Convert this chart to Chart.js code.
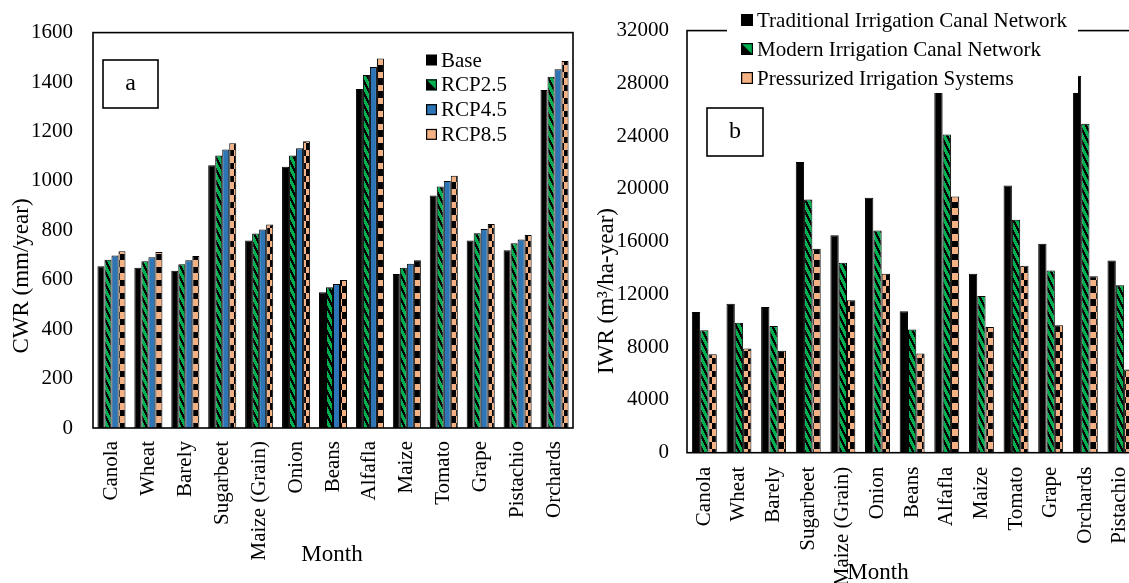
<!DOCTYPE html>
<html lang="en">
<head>
<meta charset="UTF-8">
<title>CWR and IWR by crop</title>
<script src="https://cdn.jsdelivr.net/npm/chart.js"></script>
<style>
  * { margin: 0; padding: 0; box-sizing: border-box; }
  html, body { width: 1129px; height: 583px; overflow: hidden; background: #fff; }
  .panel { position: absolute; top: 0; height: 583px; }
  #panelA { left: 0; width: 600px; }
  #panelB { left: 580px; width: 580px; }
</style>
</head>
<body>
<div class="panel" id="panelA"><canvas id="cwrChart" width="600" height="583"></canvas></div>
<div class="panel" id="panelB"><canvas id="iwrChart" width="580" height="583"></canvas></div>
<script>
// panel a - crop water requirement (mm/year)
const cropsA = ['Canola', 'Wheat', 'Barely', 'Sugarbeet', 'Maize (Grain)', 'Onion', 'Beans', 'Alfafla', 'Maize', 'Tomato', 'Grape', 'Pistachio', 'Orchards'];
const cwrBase  = [655, 648, 636, 1063, 759, 1057, 549, 1372, 623, 941, 759, 719, 1368];
const cwrRcp26 = [681, 675, 663, 1103, 787, 1103, 570, 1428, 648, 977, 788, 748, 1421];
const cwrRcp45 = [698, 691, 679, 1127, 803, 1132, 583, 1461, 665, 999, 805, 763, 1452];
const cwrRcp85 = [715, 712, 696, 1152, 823, 1160, 599, 1495, 679, 1021, 825, 781, 1485];
const cwrTicks = [0, 200, 400, 600, 800, 1000, 1200, 1400, 1600];

// panel b - irrigation water requirement (m3/ha-year)
const cropsB = ['Canola', 'Wheat', 'Barely', 'Sugarbeet', 'Maize (Grain)', 'Onion', 'Beans', 'Alfafla', 'Maize', 'Tomato', 'Grape', 'Orchards', 'Pistachio'];
const iwrTraditional = [10670, 11300, 11050, 22040, 16490, 19320, 10720, 27700, 13570, 20250, 15840, 28570, 14580];
const iwrModern      = [9280, 9860, 9610, 19190, 14400, 16850, 9340, 24130, 11880, 17660, 13820, 24940, 12690];
const iwrPressurized = [7470, 7900, 7720, 15460, 11550, 13570, 7520, 19420, 9530, 14180, 9660, 13370, 6310];
const iwrTicks = [0, 4000, 8000, 12000, 16000, 20000, 24000, 28000, 32000];

const SERIF = '"Liberation Serif", "Times New Roman", serif';
const GREEN = '#00b050';
const BLUE = '#2e75b6';
const PEACH = '#f4b183';

Chart.defaults.color = '#000';
Chart.defaults.font.family = SERIF;

function makePattern(ctx, w, h, paint) {
    const c = document.createElement('canvas');
    c.width = w;
    c.height = h;
    paint(c.getContext('2d'));
    return ctx.createPattern(c, 'repeat');
}

// green with black downward diagonal bands
function greenStripes(ctx) {
    return makePattern(ctx, 6, 12, g => {
        g.fillStyle = GREEN;
        g.fillRect(0, 0, 6, 12);
        g.fillStyle = '#000';
        for (let x = 0; x < 6; x++) {
            for (let y = 0; y < 12; y++) {
                if (((y - 2 * x) % 12 + 12) % 12 < 5) g.fillRect(x, y, 1, 1);
            }
        }
    });
}

// peach / black large checker
function peachChecker(ctx) {
    return makePattern(ctx, 12, 13, g => {
        g.fillStyle = '#000';
        g.fillRect(0, 0, 12, 13);
        g.fillStyle = PEACH;
        g.fillRect(0, 0, 6, 7);
        g.fillRect(6, 7, 6, 6);
    });
}

function drawSwatch(ctx, kind, x, y, s) {
    if (kind === 'solid') {
        ctx.fillStyle = '#000';
        ctx.fillRect(x, y, s, s);
        return;
    }
    ctx.fillStyle = kind === 'diag' ? GREEN : kind === 'blue' ? BLUE : PEACH;
    ctx.fillRect(x, y, s, s);
    ctx.fillStyle = '#000';
    if (kind === 'diag') {
        ctx.beginPath();
        ctx.moveTo(x, y);
        ctx.lineTo(x + s, y + s);
        ctx.lineTo(x, y + s);
        ctx.closePath();
        ctx.fill();
    }
    ctx.strokeStyle = '#000';
    ctx.lineWidth = 1.2;
    ctx.strokeRect(x + 0.6, y + 0.6, s - 1.2, s - 1.2);
}

// frame, in-plot legend, panel letter and axis titles
const panelDecor = {
    id: 'panelDecor',
    afterDatasetsDraw(chart, args, opts) {
        const ctx = chart.ctx;
        const area = chart.chartArea;
        ctx.save();
        ctx.strokeStyle = '#000';
        ctx.lineWidth = 1.6;
        ctx.strokeRect(area.left, area.top, area.right - area.left, area.bottom - area.top);

        const lg = opts.legend;
        if (lg.box) {
            ctx.fillStyle = '#fff';
            ctx.fillRect(lg.box[0], lg.box[1], lg.box[2], lg.box[3]);
        }
        ctx.font = '21px ' + SERIF;
        ctx.textAlign = 'left';
        ctx.textBaseline = 'middle';
        chart.data.datasets.forEach((ds, i) => {
            const cy = lg.y + i * lg.rowH;
            drawSwatch(ctx, lg.kinds[i], lg.x, cy - lg.size / 2, lg.size);
            ctx.fillStyle = '#000';
            ctx.fillText(ds.label, lg.x + lg.size + 4, cy + 1);
        });

        const b = opts.letter;
        ctx.fillStyle = '#fff';
        ctx.fillRect(b.x, b.y, b.w, b.h);
        ctx.lineWidth = 1.6;
        ctx.strokeRect(b.x, b.y, b.w, b.h);
        ctx.fillStyle = '#000';
        ctx.font = '24px ' + SERIF;
        ctx.textAlign = 'center';
        ctx.fillText(b.text, b.x + b.w / 2, b.y + b.h / 2);

        ctx.font = '23px ' + SERIF;
        opts.titles.forEach(t => {
            ctx.save();
            ctx.translate(t.x, t.y);
            ctx.rotate(t.rotate || 0);
            ctx.fillText(t.text, 0, 0);
            ctx.restore();
        });
        ctx.restore();
    }
};

function barScales(ticks, yWidth, xHeight, yPad, xPad) {
    return {
        x: {
            grid: { display: false, drawTicks: false },
            border: { display: false },
            afterFit: s => { s.height = xHeight; },
            ticks: { autoSkip: false, maxRotation: 90, minRotation: 90, padding: xPad, font: { size: 21 } }
        },
        y: {
            min: ticks[0],
            max: ticks[ticks.length - 1],
            afterBuildTicks: s => { s.ticks = ticks.map(v => ({ value: v })); },
            grid: { display: false, drawTicks: false },
            border: { display: false },
            afterFit: s => { s.width = yWidth; },
            ticks: { padding: yPad, font: { size: 21 }, callback: v => String(v) }
        }
    };
}

// CWR chart
const ctxA = document.getElementById('cwrChart').getContext('2d');
new Chart(ctxA, {
    type: 'bar',
    data: {
        labels: cropsA,
        datasets: [
            { label: 'Base', data: cwrBase, backgroundColor: '#000' },
            { label: 'RCP2.5', data: cwrRcp26, backgroundColor: greenStripes(ctxA) },
            { label: 'RCP4.5', data: cwrRcp45, backgroundColor: BLUE },
            { label: 'RCP8.5', data: cwrRcp85, backgroundColor: peachChecker(ctxA) }
        ]
    },
    options: {
        responsive: false,
        animation: false,
        events: [],
        devicePixelRatio: 1,
        layout: { padding: { left: 0, right: 27, top: 27, bottom: 0 } },
        datasets: { bar: { categoryPercentage: 0.76, barPercentage: 1, borderColor: '#000', borderWidth: 1 } },
        scales: barScales(cwrTicks, 93, 155, 20, 13),
        plugins: {
            legend: { display: false },
            tooltip: { enabled: false },
            panelDecor: {
                legend: { x: 426, y: 60, rowH: 24.8, size: 11, kinds: ['solid', 'diag', 'blue', 'checker'] },
                letter: { text: 'a', x: 103, y: 60, w: 55, h: 48 },
                titles: [
                    { text: 'CWR (mm/year)', x: 22, y: 276, rotate: -Math.PI / 2 },
                    { text: 'Month', x: 332, y: 555 }
                ]
            }
        }
    },
    plugins: [panelDecor]
});

// IWR chart
const ctxB = document.getElementById('iwrChart').getContext('2d');
new Chart(ctxB, {
    type: 'bar',
    data: {
        labels: cropsB,
        datasets: [
            { label: 'Traditional Irrigation Canal Network', data: iwrTraditional, backgroundColor: '#000' },
            { label: 'Modern Irrigation Canal Network', data: iwrModern, backgroundColor: greenStripes(ctxB) },
            { label: 'Pressurized Irrigation Systems', data: iwrPressurized, backgroundColor: peachChecker(ctxB) }
        ]
    },
    options: {
        responsive: false,
        animation: false,
        events: [],
        devicePixelRatio: 1,
        layout: { padding: { left: 0, right: 22, top: 30, bottom: 0 } },
        datasets: { bar: { categoryPercentage: 0.72, barPercentage: 1, borderColor: '#000', borderWidth: 1 } },
        scales: barScales(iwrTicks, 107, 130.3, 18, 14),
        plugins: {
            legend: { display: false },
            tooltip: { enabled: false },
            panelDecor: {
                legend: { x: 161, y: 20, rowH: 29, size: 12, kinds: ['solid', 'diag', 'checker'], box: [147, 0, 351, 93] },
                letter: { text: 'b', x: 127, y: 108, w: 56, h: 48 },
                titles: [
                    { text: 'IWR (m³/ha-year)', x: 27, y: 291, rotate: -Math.PI / 2 },
                    { text: 'Month', x: 298, y: 573 }
                ]
            }
        }
    },
    plugins: [panelDecor]
});
</script>
</body>
</html>
